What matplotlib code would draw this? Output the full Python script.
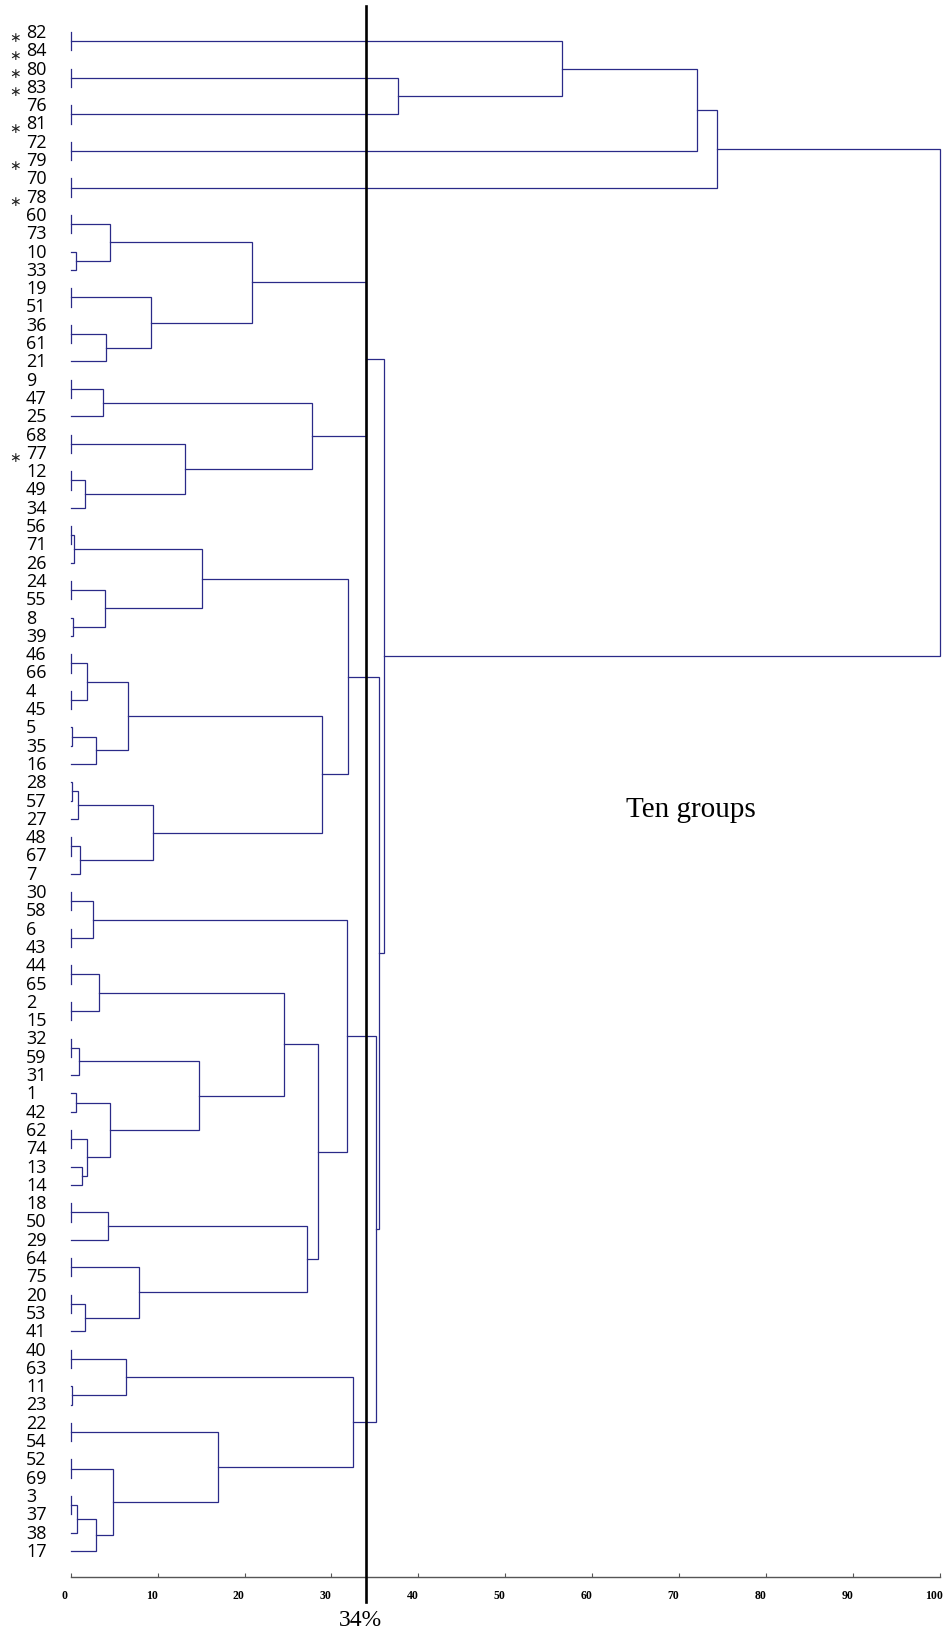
import matplotlib.pyplot as plt
import matplotlib.transforms as mtransforms

# leaf order, top to bottom
leaf_labels = ["82", "84", "80", "83", "76", "81", "72", "79", "70", "78",
               "60", "73", "10", "33", "19", "51", "36", "61", "21", "9",
               "47", "25", "68", "77", "12", "49", "34", "56", "71", "26",
               "24", "55", "8", "39", "46", "66", "4", "45", "5", "35",
               "16", "28", "57", "27", "48", "67", "7", "30", "58", "6",
               "43", "44", "65", "2", "15", "32", "59", "31", "1", "42",
               "62", "74", "13", "14", "18", "50", "29", "64", "75", "20",
               "53", "41", "40", "63", "11", "23", "22", "54", "52", "69",
               "3", "37", "38", "17"]
starred = ["82", "84", "80", "83", "81", "79", "78", "77"]

# merges: (child a, child b, distance); ints refer to earlier merges
merges = [
    ("82", "84", 0.0), ("80", "83", 0.0), ("76", "81", 0.0),
    ("72", "79", 0.0), ("70", "78", 0.0),
    (1, 2, 37.6), (0, 5, 56.5), (6, 3, 72.0), (7, 4, 74.3),          # 8
    ("60", "73", 0.0), ("10", "33", 0.6), (9, 10, 4.5),               # 11
    ("19", "51", 0.0), ("36", "61", 0.0), (13, "21", 4.1),
    (12, 14, 9.2), (11, 15, 20.9),                                     # 16
    ("9", "47", 0.0), (17, "25", 3.75), ("68", "77", 0.0),
    ("12", "49", 0.0), (20, "34", 1.65), (19, 21, 13.15),
    (18, 22, 27.8), (16, 23, 34.0),                                    # 24
    ("56", "71", 0.0), (25, "26", 0.4), ("24", "55", 0.0),
    ("8", "39", 0.3), (27, 28, 4.0), (26, 29, 15.15),                  # 30
    ("46", "66", 0.0), ("4", "45", 0.0), (31, 32, 1.9),
    ("5", "35", 0.1), (34, "16", 2.9), (33, 35, 6.6),                  # 36
    ("28", "57", 0.1), (37, "27", 0.8), ("48", "67", 0.0),
    (39, "7", 1.1), (38, 40, 9.5), (36, 41, 28.9), (30, 42, 31.95),    # 43
    ("30", "58", 0.0), ("6", "43", 0.0), (44, 45, 2.6),                # 46
    ("44", "65", 0.0), ("2", "15", 0.0), (47, 48, 3.3),                # 49
    ("32", "59", 0.0), (50, "31", 0.95), ("1", "42", 0.6),
    ("62", "74", 0.0), ("13", "14", 1.25), (53, 54, 1.9),
    (52, 55, 4.5), (51, 56, 14.8), (49, 57, 24.5),                     # 58
    ("18", "50", 0.0), (59, "29", 4.25), ("64", "75", 0.0),
    ("20", "53", 0.0), (62, "41", 1.7), (61, 63, 7.8),
    (60, 64, 27.2), (58, 65, 28.4), (46, 66, 31.75),                   # 67
    ("40", "63", 0.0), ("11", "23", 0.2), (68, 69, 6.4),               # 70
    ("3", "37", 0.0), (71, "38", 0.7), (72, "17", 2.95),
    ("52", "69", 0.0), (74, 73, 4.9), ("22", "54", 0.0),
    (76, 75, 17.0), (70, 77, 32.5),                                    # 78
    (67, 78, 35.1), (43, 79, 35.5), (24, 80, 36.0), (8, 81, 100.0),
]

cut_level = 34
x_ticks = [0, 10, 20, 30, 40, 50, 60, 70, 80, 90, 100]

W, H = 946, 1633
fig = plt.figure(figsize=(W / 100, H / 100), dpi=100)
x0, x1 = 70.7, 940.0
top, bottom = 7, 1578
row0, row = 33.0, 18.3
ax = fig.add_axes([x0 / W, 1 - bottom / H, (x1 - x0) / W, (bottom - top) / H])
ax.set_xlim(0, 100)
ax.set_ylim((bottom - row0) / row, (top - row0) / row)

line_col = "#2a2a88"
pos = {lab: i for i, lab in enumerate(leaf_labels)}
nodes = []  # (y, height) for each merge


def where(c):
    if isinstance(c, str):
        return pos[c], 0.0
    return nodes[c]


for a, b, h in merges:
    ya, ha = where(a)
    yb, hb = where(b)
    ax.plot([ha, h, h, hb], [ya, ya, yb, yb], color=line_col, lw=0.9,
            solid_joinstyle="miter", clip_on=False)
    nodes.append(((ya + yb) / 2, h))

# cut line
ax.plot([cut_level, cut_level], [(top - row0) / row, (1603 - row0) / row],
        color="black", lw=1.9, clip_on=False, zorder=5)

for s in ["top", "right", "left"]:
    ax.spines[s].set_visible(False)
ax.spines["bottom"].set_color("#555555")
ax.spines["bottom"].set_linewidth(1.0)
ax.set_yticks([])
ax.set_xticks(x_ticks)
ax.tick_params(axis="x", direction="in", length=3, width=0.8, color="#555555",
               pad=9, labelsize=8.5)
for t in ax.get_xticklabels():
    t.set_fontfamily("Liberation Serif")
    t.set_fontweight("bold")
    t.set_transform(t.get_transform() + mtransforms.ScaledTranslation(-6 / 100, 0, fig.dpi_scale_trans))

# leaf labels
lab_tr = mtransforms.blended_transform_factory(fig.transFigure, ax.transData)
for lab, i in pos.items():
    ax.text(26 / W, i, lab, transform=lab_tr, ha="left", va="center",
            fontsize=13, family="Open Sans", color="black", clip_on=False)
    if lab in starred:
        ax.text(15 / W, i + 0.25, "\u2217", transform=lab_tr, ha="center",
                va="center", fontsize=10, family="DejaVu Sans",
                color="#222222", clip_on=False)

ax.text(71.3, (810 - row0) / row, "Ten groups", ha="center", va="center",
        fontsize=21, family="Liberation Serif")
ax.text(33.3, (1621 - row0) / row, "34%", ha="center", va="center",
        fontsize=17, family="Liberation Serif", clip_on=False)

fig.savefig("out.png", dpi=100)
